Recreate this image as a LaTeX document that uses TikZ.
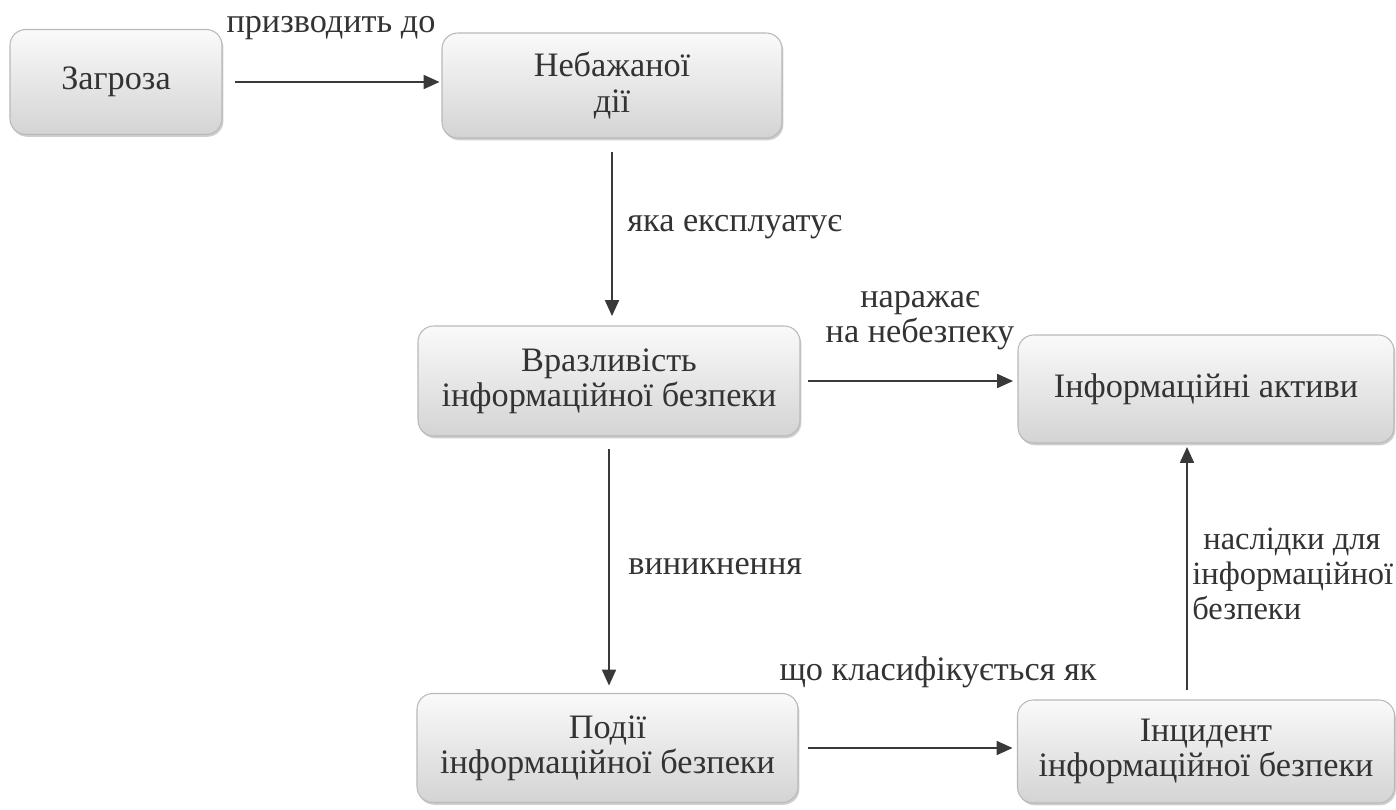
\documentclass[tikz,border=0pt]{standalone}
\usepackage{fontspec}
\setmainfont{Liberation Serif}
\usetikzlibrary{arrows.meta,positioning,shadows}

\begin{document}
\begin{tikzpicture}[
  box/.style={rounded corners=9pt, draw=gray!55, line width=0.6pt,
              top color=gray!4, bottom color=gray!34,
              drop shadow={shadow xshift=0.8pt, shadow yshift=-1.3pt, fill=gray!75},
              align=center, inner sep=0pt, outer sep=0pt,
              font=\fontsize{19.5pt}{20pt}\selectfont, text=black!80},
  lbl/.style={font=\fontsize{19.5pt}{20pt}\selectfont, text=black!80, inner sep=0pt},
  link/.style={-{Triangle[length=9pt, width=8pt]}, line width=0.8pt, gray!45!black},
]
\useasboundingbox (0,0) rectangle (27.92,16.18);

% Boxes
\node[box, minimum width=4.24cm, minimum height=2.1cm] (zag) at (2.32, 14.54) {Загроза};
\node[box, minimum width=6.8cm, minimum height=2.1cm] (neb) at (12.24, 14.47) {Небажаної\\дії};
\node[box, minimum width=7.64cm, minimum height=2.2cm] (vr) at (12.18, 8.56) {Вразливість\\інформаційної безпеки};
\node[box, minimum width=7.52cm, minimum height=2.16cm] (ia) at (24.12, 8.4) {Інформаційні активи};
\node[box, minimum width=7.62cm, minimum height=2.18cm] (pod) at (12.15, 1.22) {Події\\інформаційної безпеки};
\node[box, minimum width=7.54cm, minimum height=2.06cm] (inc) at (24.12, 1.15) {Інцидент\\інформаційної безпеки};

% Connectors
\draw[link, shorten <=0.26cm, shorten >=0.05cm] (zag.east) -- (zag.east -| neb.west);
\draw[link, shorten <=0.28cm, shorten >=0.2cm] (neb.south) -- (neb.south |- vr.north);
\draw[link, shorten <=0.16cm, shorten >=0.1cm] (vr.east) -- (vr.east -| ia.west);
\draw[link, shorten <=0.26cm, shorten >=0.16cm] (vr.south) -- (vr.south |- pod.north);
\draw[link, shorten <=0.2cm, shorten >=0.1cm] (pod.east) -- (pod.east -| inc.west);
\draw[link, shorten <=0.2cm, shorten >=0.08cm] ([xshift=-0.38cm]inc.north) -- ([xshift=-0.38cm]ia.south);

% Connector labels
\node[lbl] (lzag) at (6.62, 15.62) {призводить до};
\node[lbl, anchor=west] (lneb) at (12.54, 11.64) {яка експлуатує};
\node[lbl, align=center] (lvr) at (18.4, 9.76) {наражає\\на небезпеку};
\node[lbl, anchor=west] (lpod) at (12.56, 4.84) {виникнення};
\node[lbl] (linc) at (18.76, 2.74) {що класифікується як};
\node[lbl, align=left, anchor=west, font=\fontsize{18.5pt}{20pt}\selectfont]
  (lia) at (23.84, 4.7) {\hspace*{0.22cm}наслідки для\\інформаційної\\безпеки};

\end{tikzpicture}
\end{document}
